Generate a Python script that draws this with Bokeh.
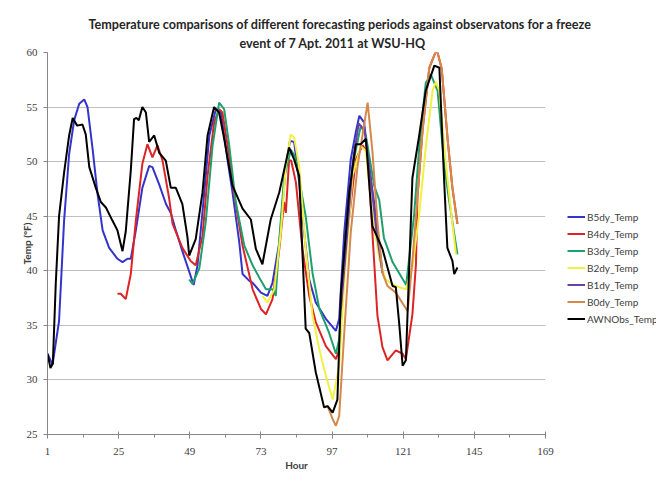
from bokeh.plotting import figure
from bokeh.models import FixedTicker, Title, Range1d, Legend, LegendItem
from bokeh.embed import file_html
from bokeh.resources import INLINE

# ---------------- data ----------------
b5_hour = [1, 2.7, 4.9, 6.6, 8.3, 10, 11.7, 13.4, 14.5, 16.2, 17.9, 19.6, 21.8, 24.6, 26.3, 28, 29.1,
           30.8, 33, 35.3, 36.4, 38.7, 41, 42.6, 44.3, 46.5, 50.3, 51.6, 53.9, 55.6, 57.8, 59.5, 61.7,
           63.4, 65.7, 66.8, 69, 70.2, 73, 75.2, 76.9, 79.2, 81.4, 82.8, 84.2, 85.9, 87, 89.3, 91.5,
           94.9, 98.3, 99.4, 101.1, 103.3, 105, 106.2, 107.8, 109.5, 111.8, 114]
b5_temp = [32.4, 31.4, 35.4, 44.6, 50.7, 53.8, 55.3, 55.7, 55.0, 51.2, 47.0, 43.7, 42.1, 41.1, 40.8, 41.1, 41.1,
           43.7, 47.6, 49.6, 49.5, 47.9, 46.1, 45.3, 43.7, 41.8, 38.7, 40.5, 47.2, 52.4, 54.8, 54.6, 50.2,
           47.2, 42.6, 39.7, 39.1, 38.9, 38.0, 37.7, 38.9, 42.6, 49.6, 51.9, 51.8, 48.1, 45.0, 39.2, 37.1,
           35.6, 34.5, 35.6, 43.5, 50.2, 52.7, 54.2, 53.6, 49.6, 45.0, 39.8]

b4_hour = [24.6, 25.7, 27.4, 29.1, 30.8, 33, 34.7, 36.4, 38.1, 39.8, 42, 43.2, 46.5, 49.3, 51, 53.3, 55,
           57.2, 58.9, 60, 62.3, 64, 66.8, 70.2, 73, 74.7, 76.9, 79.2, 80.8, 81.4, 82.5, 83.2, 84.8, 87,
           89.3, 91.5, 94.9, 98.3, 99.4, 101.6, 105, 107.3, 109, 110.6, 112.3, 114, 115.7, 118.5, 120.8,
           121.9, 124.1, 125.3, 125.8, 127.5, 129.8, 132.3, 134, 136, 137.6, 139.3]
b4_temp = [37.9, 37.9, 37.4, 39.7, 44.6, 49.8, 51.6, 50.4, 51.5, 50.1, 46.7, 44.3, 42.1, 40.9, 40.5, 43.2, 48.7,
           53.6, 54.8, 54.5, 50.5, 47.0, 42.3, 38.3, 36.5, 36.0, 37.4, 42.0, 46.3, 45.3, 50.1, 50.1, 48.1, 42.0,
           37.7, 35.3, 33.1, 31.9, 32.8, 42.0, 50.2, 51.5, 50.8, 43.5, 35.9, 33.0, 31.8, 32.7, 32.4,
           31.9, 36.0, 40.6, 46.7, 52.8, 58.6, 60.3, 58.5, 52.0, 47.6, 44.3]

b3_hour = [48.8, 49.9, 52.2, 54.4, 56.7, 58.9, 60.6, 62.3, 64.5, 67.4, 70.2, 73, 74.7, 76.9, 78, 79.2, 80.8,
           83.1, 84.6, 88.1, 90.4, 92.7, 96, 98.3, 99.4, 101.1, 103.9, 106.7, 108.4, 111.2, 112.9, 114.5,
           117.4, 122, 124.7, 126.4, 128.6, 130.3, 132.6, 134.8, 136.5, 138.2, 139.3]
b3_temp = [39.2, 38.8, 40.2, 44.5, 51.5, 55.4, 54.8, 51.5, 46.3, 42.3, 40.5, 39.1, 38.3, 38.3, 37.7, 42.8, 48.5,
           51.1, 50.4, 45.0, 39.8, 36.5, 34.3, 32.4, 33.7, 40.5, 49.6, 53.3, 52.4, 47.8, 46.5, 43.0,
           40.8, 38.7, 45.2, 51.3, 57.2, 58.0, 56.5, 49.8, 46.4, 43.4, 41.5]

b2_hour = [73.5, 75.2, 77.5, 79.7, 81.4, 83.1, 84.2, 85.9, 88.1, 90.4, 92.7, 94.9, 97.2, 99.4, 101.1, 103.9,
           106.7, 108.4, 110.6, 113, 115.1, 118.5, 121.9, 124.1, 126.4, 128.6, 130.9, 132, 133.2, 135.4,
           137.6, 138.8]
b2_temp = [37.7, 37.1, 38.3, 43.5, 49.6, 52.5, 52.2, 49.6, 42.0, 35.9, 32.8, 30.4, 28.2, 31.3, 38.9, 48.7,
           51.4, 51.0, 45.0, 41.0, 39.2, 38.6, 38.3, 40.3, 45.2, 51.3, 56.5, 57.3, 56.5, 49.8,
           44.3, 41.5]

b1_hour = [100, 102, 104, 106, 108, 110, 112, 114]
b1_temp = [36.5, 43.0, 50.0, 53.5, 52.8, 48.5, 43.5, 39.8]

b0_hour = [94.3, 95.5, 97.2, 98.3, 99.4, 101.1, 103.3, 105.6, 107.3, 109, 110.6, 112.3, 114, 115.7, 118.5,
           122.5, 124.1, 125.8, 127.5, 129.8, 132.3, 134, 136, 137.6, 139.3]
b0_temp = [27.5, 27.6, 26.4, 25.8, 26.7, 34.3, 43.5, 49.6, 52.5, 55.4, 51.0, 44.5, 39.8, 38.6, 38.0,
           36.3, 40.9, 46.7, 52.8, 58.6, 60.3, 58.5, 52.0, 47.6, 44.3]

obs_hour = [1, 2, 2.8, 3.8, 4.9, 6.6, 8.3, 9.5, 11, 12.8, 13.9, 15.1, 17.3, 19, 20.7, 22.9, 24.6, 26.3, 27.4,
            29.1, 30.2, 31, 31.8, 33, 34.2, 35.3, 37, 38.7, 40.9, 42.6, 44.3, 46.5, 48.2, 48.8, 51, 53.3,
            55, 57.2, 58.9, 60.6, 63.4, 66.8, 69.6, 71.3, 73.5, 76.3, 79.2, 82.5, 84.2, 85.9, 88.1, 89.3,
            91.5, 94.3, 95.5, 97.2, 98.8, 100, 102.8, 105, 106.7, 108.4, 110.6, 114, 117.4, 118.5, 119.7,
            120.8, 121.9, 124.1, 126.4, 128.6, 131.5, 133.2, 134.8, 135.9, 137.6, 138.2, 139.3]
obs_temp = [32.4, 31.1, 31.5, 38.9, 45.0, 49.0, 52.4, 54.0, 53.3, 53.4, 52.5, 49.5, 47.6, 46.3, 45.8, 44.6,
            43.7, 41.8, 43.6, 49.2, 53.9, 54.0, 53.8, 55.0, 54.5, 51.8, 52.4, 50.8, 50.1, 47.6, 47.6, 46.1,
            43.1, 41.4, 42.9, 47.2, 52.4, 55.0, 54.5, 52.1, 47.8, 45.7, 44.7, 42.0, 40.6, 44.7, 47.2, 51.3,
            50.2, 48.7, 34.7, 34.3, 30.7, 27.5, 27.6, 27.0, 28.2, 38.0, 47.2, 51.6, 51.6, 52.1, 44.1, 42.0,
            38.6, 38.5, 35.0, 31.3, 31.8, 48.5, 52.4, 56.5, 58.8, 58.6, 48.3, 42.1, 40.9, 39.7, 40.3]

x_ticks = [1, 25, 49, 73, 97, 121, 145, 169]
x_minor = [13, 37, 61, 85, 109, 133, 157]
y_ticks = [25, 30, 35, 40, 45, 50, 55, 60]

series = [
    ("B5dy_Temp", b5_hour, b5_temp, "#3434cc"),
    ("B4dy_Temp", b4_hour, b4_temp, "#dd2424"),
    ("B3dy_Temp", b3_hour, b3_temp, "#1f9e6e"),
    ("B2dy_Temp", b2_hour, b2_temp, "#f2f040"),
    ("B1dy_Temp", b1_hour, b1_temp, "#7040a0"),
    ("B0dy_Temp", b0_hour, b0_temp, "#d4884a"),
    ("AWNObs_Temp", obs_hour, obs_temp, "#000000"),
]

# ---------------- figure ----------------
p = figure(frame_width=498, frame_height=382,
           min_border_left=47, min_border_right=103, min_border_top=52, min_border_bottom=31,
           x_range=Range1d(1, 169), y_range=Range1d(25, 60),
           output_backend="svg", toolbar_location=None)
p.outline_line_color = None
p.background_fill_color = "white"
p.border_fill_color = "white"

items = []
for name, hx, ty, col in series:
    r = p.line(hx, ty, line_width=2, color=col)
    items.append(LegendItem(label=name, renderers=[r]))

# axes
p.xaxis.ticker = FixedTicker(ticks=x_ticks, minor_ticks=x_minor)
p.yaxis.ticker = FixedTicker(ticks=y_ticks)
for ax in (p.xaxis[0], p.yaxis[0]):
    ax.axis_line_color = "#868686"
    ax.major_tick_line_color = "#868686"
    ax.minor_tick_line_color = "#868686"
    ax.major_label_text_font = "Liberation Serif"
    ax.major_label_text_font_size = "11px"
    ax.major_label_text_color = "#404040"
    ax.axis_label_text_font = "Lato"
    ax.axis_label_text_font_style = "bold"
    ax.axis_label_text_font_size = "10px"
    ax.axis_label_text_color = "#404040"
p.xaxis.major_tick_in = 3
p.xaxis.major_tick_out = 4
p.xaxis.minor_tick_in = 0
p.xaxis.minor_tick_out = 3
p.xaxis.major_label_standoff = 9
p.xaxis.axis_label = "Hour"
p.xaxis.axis_label_standoff = 1
p.yaxis.major_tick_in = 0
p.yaxis.major_tick_out = 4
p.yaxis.minor_tick_out = 0
p.yaxis.minor_tick_in = 0
p.yaxis.major_label_standoff = 6
p.yaxis.axis_label = "Temp (°F)"
p.yaxis.axis_label_standoff = -9

p.xgrid.visible = False
p.ygrid.ticker = FixedTicker(ticks=y_ticks[1:])
p.ygrid.grid_line_color = "#c0c0c0"
p.ygrid.grid_line_width = 1

# legend (outside the frame, to the right)
lg = Legend(items=items, location=(22, 108), padding=0, margin=0, spacing=2,
            glyph_width=18, glyph_height=15, label_height=15, label_standoff=2,
            label_text_font="Lato", label_text_font_size="10px", label_text_color="#404040",
            border_line_color=None, background_fill_alpha=0)
p.add_layout(lg, "right")

# title (two lines)
t1 = Title(text="Temperature comparisons of different forecasting periods against observatons for a freeze",
           align="left", offset=41, standoff=8,
           text_font="Lato", text_font_size="12.6px", text_font_style="bold", text_color="#262626")
t2 = Title(text="event of 7 Apt. 2011 at WSU-HQ", align="left", offset=192, standoff=0,
           vertical_align="top",
           text_font="Lato", text_font_size="12.6px", text_font_style="bold", text_color="#262626")
p.add_layout(t2, "above")
p.add_layout(t1, "above")

open("out.html", "w").write(file_html(p, INLINE))
